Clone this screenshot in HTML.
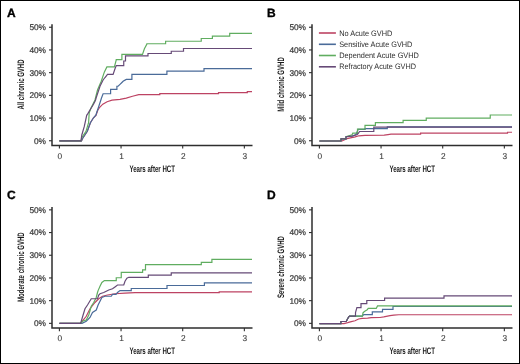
<!DOCTYPE html>
<html><head><meta charset="utf-8"><style>
html,body{margin:0;padding:0;background:#fff;}
.wrap{position:relative;width:520px;height:364px;box-sizing:border-box;border:1px solid #000;overflow:hidden;background:#fff;}
svg{position:absolute;left:-1px;top:-1px;}
text{font-family:"Liberation Sans",sans-serif;text-rendering:geometricPrecision;}
svg{will-change:transform;}
.lt{font-size:12px;font-weight:bold;fill:#000;stroke:#000;stroke-width:0.35;}
.yl{font-size:8.3px;fill:#333;stroke:#333;stroke-width:0.2;text-anchor:end;}
.xl{font-size:8.3px;fill:#3a3a3a;stroke:#3a3a3a;stroke-width:0.1;text-anchor:middle;}
.xt{font-size:9.4px;fill:#1a1a1a;font-weight:bold;}
.yt{font-size:9.4px;fill:#1a1a1a;font-weight:bold;text-anchor:middle;}
.ax{fill:none;stroke:#2e2e2e;stroke-width:1.5;}
.tk{fill:none;stroke:#2e2e2e;stroke-width:1.1;}
.cv{stroke-width:1.2;stroke-linejoin:miter;}
.lg{font-size:7.9px;fill:#2e2e2e;}
</style></head><body><div class="wrap">
<svg width="520" height="364" viewBox="0 0 520 364">
<g transform="translate(0,0)">
<text x="6.9" y="16.8" class="lt">A</text>
<path d="M52.0,24.3 V145.4 H252.5" class="ax"/>
<path d="M49,140.75 H52.0" class="tk"/>
<text x="46" y="143.65" class="yl">0%</text>
<path d="M49,118.05 H52.0" class="tk"/>
<text x="46" y="120.95" class="yl">10%</text>
<path d="M49,95.35 H52.0" class="tk"/>
<text x="46" y="98.25" class="yl">20%</text>
<path d="M49,72.65 H52.0" class="tk"/>
<text x="46" y="75.55" class="yl">30%</text>
<path d="M49,49.95 H52.0" class="tk"/>
<text x="46" y="52.85" class="yl">40%</text>
<path d="M49,27.25 H52.0" class="tk"/>
<text x="46" y="30.15" class="yl">50%</text>
<path d="M59.40,145.4 V148.6" class="tk"/>
<text x="59.90" y="158.6" class="xl">0</text>
<path d="M121.05,145.4 V148.6" class="tk"/>
<text x="121.55" y="158.6" class="xl">1</text>
<path d="M182.70,145.4 V148.6" class="tk"/>
<text x="183.20" y="158.6" class="xl">2</text>
<path d="M244.35,145.4 V148.6" class="tk"/>
<text x="244.85" y="158.6" class="xl">3</text>
<text x="129.4" y="171.9" class="xt" textLength="45.6" lengthAdjust="spacingAndGlyphs">Years after HCT</text>
<text transform="translate(23.5,84.5) rotate(-90)" x="0" y="0" class="yt" textLength="49.9" lengthAdjust="spacingAndGlyphs">All chronic GVHD</text>
<path d="M59.4,140.8 H81.5 L82.4,138.7 L87.3,131.3 L90.4,122.7 L93.5,117.8 L96,115.3 L97.8,110.3 L99.7,107.3 L102.8,104.2 L107.1,101.7 L112,100.2 L120,99.4 L126.25,98.1 L132.5,96.25 L138.75,94.6 H159.8 V93.7 H218.5 V92.7 H247.3 V91.7 H252" fill="none" stroke="#bd4363" class="cv"/>
<path d="M59.4,140.8 H81.5 L82.4,138.7 L87.3,131.3 L90.4,122.7 L93.5,117.8 L96,115 L96.6,112.8 L98.5,107.3 L100.3,101.7 L101.5,98 L103.1,93.75 H110.6 V89.4 H116.9 V86.25 L118.1,86.25 L120,84.4 L121.9,82.5 L123.1,81.25 L126.25,79.4 H131.9 V74.4 H166.9 V71.2 H204 V68.7 H252" fill="none" stroke="#4a6b99" class="cv"/>
<path d="M59.4,140.8 H81 L81.8,137.5 L86,131.3 L88.6,122.7 L89.2,112.8 L91,108 L93,104 L95,100 L97.5,90 L101.25,81.25 L104.4,71.9 L106.9,66.9 H114.4 L116.25,60 V59.6 H121.9 V54.4 H142.5 L144.4,48.75 L146.9,44 V43.75 H165.6 V41.25 H201.25 V38.5 H212.4 V36.1 H229.7 V33.3 H252" fill="none" stroke="#60ad60" class="cv"/>
<path d="M59.4,140.8 H81 L81.8,135 L84.3,126.4 L86.7,115.3 L88,113.4 L89.8,110.3 L91.7,107.3 L93.5,104.2 L95.4,100.5 L96.25,97.5 L100,86.25 L103.1,80 L105,77.5 L107.5,74.4 H113.1 L115,68.75 L116.25,65.6 H123.75 V61 H125.5 V55.8 H148 V53.5 H171.25 V51.25 H183.5 V48.5 H252" fill="none" stroke="#664a77" class="cv"/>
</g>
<g transform="translate(260,0)">
<text x="6.9" y="16.8" class="lt">B</text>
<path d="M52.0,24.3 V145.4 H252.5" class="ax"/>
<path d="M49,140.75 H52.0" class="tk"/>
<text x="46" y="143.65" class="yl">0%</text>
<path d="M49,118.05 H52.0" class="tk"/>
<text x="46" y="120.95" class="yl">10%</text>
<path d="M49,95.35 H52.0" class="tk"/>
<text x="46" y="98.25" class="yl">20%</text>
<path d="M49,72.65 H52.0" class="tk"/>
<text x="46" y="75.55" class="yl">30%</text>
<path d="M49,49.95 H52.0" class="tk"/>
<text x="46" y="52.85" class="yl">40%</text>
<path d="M49,27.25 H52.0" class="tk"/>
<text x="46" y="30.15" class="yl">50%</text>
<path d="M59.40,145.4 V148.6" class="tk"/>
<text x="59.90" y="158.6" class="xl">0</text>
<path d="M121.05,145.4 V148.6" class="tk"/>
<text x="121.55" y="158.6" class="xl">1</text>
<path d="M182.70,145.4 V148.6" class="tk"/>
<text x="183.20" y="158.6" class="xl">2</text>
<path d="M244.35,145.4 V148.6" class="tk"/>
<text x="244.85" y="158.6" class="xl">3</text>
<text x="129.4" y="171.9" class="xt" textLength="45.6" lengthAdjust="spacingAndGlyphs">Years after HCT</text>
<text transform="translate(23.5,84.5) rotate(-90)" x="0" y="0" class="yt" textLength="54.5" lengthAdjust="spacingAndGlyphs">Mild chronic GVHD</text>
<path d="M 59.40,141.00 H 82.00 L 86.90,138.60 L 95.20,136.90 L 98.80,135.80 L 105.00,135.40 L 124.20,135.20 L 128.00,134.60 L 131.00,134.10 H 160.60 V 133.10 H 247.50 V 132.25 H 252.00" fill="none" stroke="#bd4363" class="cv"/>
<path d="M 59.40,141.00 H 81.00 V 138.80 H 86.00 V 136.70 L 92.00,136.00 L 96.00,134.50 L 98.10,129.40 H 105.00 V 128.60 H 127.30 V 126.90 H 252.00" fill="none" stroke="#4a6b99" class="cv"/>
<path d="M 59.40,141.00 H 81.00 V 138.80 H 86.00 V 136.70 L 92.10,134.80 L 92.80,133.10 H 97.50 V 129.20 H 105.00 V 125.40 H 115.40 V 122.70 H 143.10 V 120.40 H 166.25 V 118.10 H 230.25 V 115.00 H 252.00" fill="none" stroke="#60ad60" class="cv"/>
<path d="M 59.40,141.00 H 81.00 V 138.80 H 86.00 V 136.70 L 92.40,136.20 L 97.20,134.50 L 98.10,133.50 L 99.60,131.50 H 113.80 V 127.20 H 252.00" fill="none" stroke="#664a77" class="cv"/>
</g>
<g transform="translate(0,182.6)">
<text x="6.9" y="16.8" class="lt">C</text>
<path d="M52.0,24.3 V145.4 H252.5" class="ax"/>
<path d="M49,140.75 H52.0" class="tk"/>
<text x="46" y="143.65" class="yl">0%</text>
<path d="M49,118.05 H52.0" class="tk"/>
<text x="46" y="120.95" class="yl">10%</text>
<path d="M49,95.35 H52.0" class="tk"/>
<text x="46" y="98.25" class="yl">20%</text>
<path d="M49,72.65 H52.0" class="tk"/>
<text x="46" y="75.55" class="yl">30%</text>
<path d="M49,49.95 H52.0" class="tk"/>
<text x="46" y="52.85" class="yl">40%</text>
<path d="M49,27.25 H52.0" class="tk"/>
<text x="46" y="30.15" class="yl">50%</text>
<path d="M59.40,145.4 V148.6" class="tk"/>
<text x="59.90" y="158.6" class="xl">0</text>
<path d="M121.05,145.4 V148.6" class="tk"/>
<text x="121.55" y="158.6" class="xl">1</text>
<path d="M182.70,145.4 V148.6" class="tk"/>
<text x="183.20" y="158.6" class="xl">2</text>
<path d="M244.35,145.4 V148.6" class="tk"/>
<text x="244.85" y="158.6" class="xl">3</text>
<text x="129.4" y="171.9" class="xt" textLength="45.6" lengthAdjust="spacingAndGlyphs">Years after HCT</text>
<text transform="translate(23.5,84.5) rotate(-90)" x="0" y="0" class="yt" textLength="69.7" lengthAdjust="spacingAndGlyphs">Moderate chronic GVHD</text>
<path d="M 59.40,140.70 H 80.60 L 81.25,139.90 L 86.25,133.65 L 90.00,126.15 L 95.00,119.90 L 98.75,116.15 L 102.50,113.65 L 107.50,112.40 L 115.00,111.15 L 125.00,110.50 L 135.00,110.00 H 219.20 V 109.20 H 252.00" fill="none" stroke="#bd4363" class="cv"/>
<path d="M 59.40,140.70 H 82.00 L 86.25,138.65 L 90.00,134.90 L 92.50,129.90 L 96.25,127.40 L 98.10,122.40 L 100.00,118.65 L 101.90,114.90 L 105.00,113.65 H 111.25 L 112.50,111.80 H 116.00 L 117.50,109.90 L 120.00,108.00 H 131.25 V 105.90 H 167.00 V 102.90 H 204.40 V 100.20 H 252.00" fill="none" stroke="#4a6b99" class="cv"/>
<path d="M 59.40,140.70 H 80.60 L 82.50,138.65 L 86.25,137.40 L 88.75,132.40 L 91.25,123.65 L 93.75,119.90 L 96.25,114.90 L 97.50,109.90 L 98.10,108.00 L 100.00,103.65 L 101.90,99.90 L 104.40,98.00 H 116.25 V 95.15 H 121.25 V 89.70 H 142.60 V 87.30 H 145.50 V 82.00 H 201.30 V 79.80 H 211.90 V 76.80 H 252.00" fill="none" stroke="#60ad60" class="cv"/>
<path d="M 59.40,140.70 H 80.60 L 83.10,132.40 L 85.00,126.15 L 87.50,122.40 L 91.25,116.15 H 97.50 L 98.75,112.40 L 100.00,111.15 L 103.75,109.90 L 106.25,108.65 L 108.75,107.40 L 112.50,106.15 L 115.00,104.30 L 117.50,102.40 H 123.75 L 125.00,98.65 L 126.90,95.50 L 128.75,94.70 H 148.30 V 92.60 H 171.25 V 90.30 H 252.00" fill="none" stroke="#664a77" class="cv"/>
</g>
<g transform="translate(260,182.6)">
<text x="6.9" y="16.8" class="lt">D</text>
<path d="M52.0,24.3 V145.4 H252.5" class="ax"/>
<path d="M49,140.75 H52.0" class="tk"/>
<text x="46" y="143.65" class="yl">0%</text>
<path d="M49,118.05 H52.0" class="tk"/>
<text x="46" y="120.95" class="yl">10%</text>
<path d="M49,95.35 H52.0" class="tk"/>
<text x="46" y="98.25" class="yl">20%</text>
<path d="M49,72.65 H52.0" class="tk"/>
<text x="46" y="75.55" class="yl">30%</text>
<path d="M49,49.95 H52.0" class="tk"/>
<text x="46" y="52.85" class="yl">40%</text>
<path d="M49,27.25 H52.0" class="tk"/>
<text x="46" y="30.15" class="yl">50%</text>
<path d="M59.40,145.4 V148.6" class="tk"/>
<text x="59.90" y="158.6" class="xl">0</text>
<path d="M121.05,145.4 V148.6" class="tk"/>
<text x="121.55" y="158.6" class="xl">1</text>
<path d="M182.70,145.4 V148.6" class="tk"/>
<text x="183.20" y="158.6" class="xl">2</text>
<path d="M244.35,145.4 V148.6" class="tk"/>
<text x="244.85" y="158.6" class="xl">3</text>
<text x="129.4" y="171.9" class="xt" textLength="45.6" lengthAdjust="spacingAndGlyphs">Years after HCT</text>
<text transform="translate(23.5,84.5) rotate(-90)" x="0" y="0" class="yt" textLength="62" lengthAdjust="spacingAndGlyphs">Severe chronic GVHD</text>
<path d="M 59.40,141.00 H 84.00 L 87.70,140.10 L 91.30,139.10 L 95.00,138.20 L 98.60,136.40 L 102.20,135.80 L 107.60,135.50 L 111.30,135.10 L 120.00,134.90 L 123.75,134.30 L 130.00,133.00 L 133.75,132.60 L 138.75,132.15 H 252.00" fill="none" stroke="#bd4363" class="cv"/>
<path d="M 59.40,141.00 H 80.90 V 138.90 H 86.30 L 87.20,136.90 L 88.60,134.60 L 89.50,133.50 H 102.40 L 103.70,132.00 H 112.30 V 129.20 H 122.50 V 126.80 H 133.00 V 123.90 H 252.00" fill="none" stroke="#4a6b99" class="cv"/>
<path d="M 59.40,141.00 H 80.90 V 138.90 H 86.30 L 87.20,136.90 L 88.60,134.60 L 89.50,133.50 H 102.40 L 103.00,130.30 L 104.40,128.90 L 107.20,127.20 L 108.20,125.80 H 116.25 L 117.50,123.30 H 252.00" fill="none" stroke="#60ad60" class="cv"/>
<path d="M 59.40,141.00 H 80.90 V 138.90 H 86.30 L 87.20,136.90 L 88.60,134.60 L 89.50,133.50 H 95.50 V 129.90 L 96.90,125.10 H 101.00 V 121.00 H 106.80 V 117.90 H 124.60 V 115.60 H 184.00 V 113.30 H 252.00" fill="none" stroke="#664a77" class="cv"/>
</g>
<path d="M318.9,33.0 H335.9" stroke="#bd4363" stroke-width="1.6" fill="none"/>
<text x="339.2" y="35.50" class="lg" textLength="53.2" lengthAdjust="spacingAndGlyphs">No Acute GVHD</text>
<path d="M318.9,44.3 H335.9" stroke="#4a6b99" stroke-width="1.6" fill="none"/>
<text x="339.2" y="46.80" class="lg" textLength="73.2" lengthAdjust="spacingAndGlyphs">Sensitive Acute GVHD</text>
<path d="M318.9,55.5 H335.9" stroke="#60ad60" stroke-width="1.6" fill="none"/>
<text x="339.2" y="58.00" class="lg" textLength="79.7" lengthAdjust="spacingAndGlyphs">Dependent Acute GVHD</text>
<path d="M318.9,66.8 H335.9" stroke="#664a77" stroke-width="1.6" fill="none"/>
<text x="339.2" y="69.30" class="lg" textLength="76.7" lengthAdjust="spacingAndGlyphs">Refractory Acute GVHD</text>
</svg></div></body></html>
